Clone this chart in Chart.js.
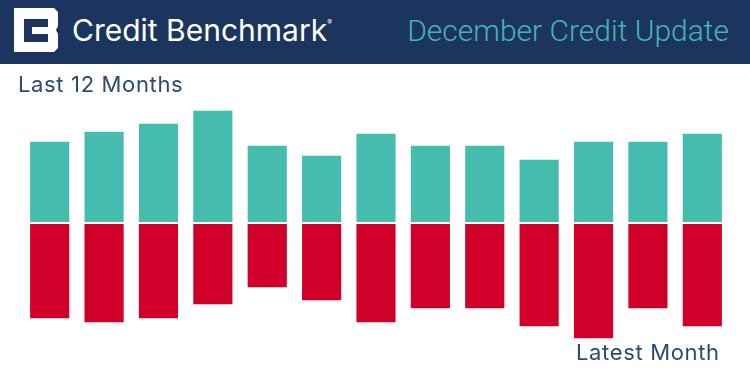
<!DOCTYPE html>
<html lang="en">
<head>
    <meta charset="UTF-8">
    <title>December Credit Update</title>
    <script src="https://cdn.jsdelivr.net/npm/chart.js"></script>
    <style>
        html, body { margin: 0; padding: 0; background: #fff; }
        #page { position: relative; width: 750px; height: 375px; overflow: hidden; }
        #chart { position: absolute; left: 0; top: 0; }
        .header { position: absolute; left: 0; top: 0; width: 750px; height: 64px; background: #1c355e; }
        .logo { position: absolute; left: 14px; top: 8px; }
        .brand { position: absolute; left: 72px; top: 10px; color: #fff; font: 400 30px/40px Inter, sans-serif; white-space: nowrap; }
        .brand sup { font-size: 7px; position: relative; top: -5px; vertical-align: super; line-height: 0; }
        .update { position: absolute; right: 21px; top: 11px; color: #45b5b0; font: 300 30px/40px Roboto, sans-serif; white-space: nowrap; }
        .note { position: absolute; color: #2e4a72; font: 400 22px/26px Inter, sans-serif; letter-spacing: 0.65px; white-space: nowrap; }
    </style>
</head>
<body>
    <div id="page">
        <canvas id="chart" width="750" height="375"></canvas>
        <div class="header">
            <svg class="logo" width="44" height="44" viewBox="0 0 44 44">
                <path d="M0 0H40L44 4V18L42 22L44 26V40L40 44H0Z" fill="#fff"/>
                <path d="M10 11H34V19H18V26H34V34H10Z" fill="#1c355e"/>
            </svg>
            <div class="brand">Credit Benchmark<sup>®</sup></div>
            <div class="update">December Credit Update</div>
        </div>
        <div class="note" style="left:18px;top:71px">Last 12 Months</div>
        <div class="note" style="left:576px;top:339px">Latest Month</div>
    </div>

    <script>
        const months = ['Dec', 'Jan', 'Feb', 'Mar', 'Apr', 'May', 'Jun', 'Jul', 'Aug', 'Sep', 'Oct', 'Nov', 'Dec '];
        const upgrades = [81, 91, 99, 112, 77, 67, 89, 77, 77, 63, 81, 81, 89];
        const downgrades = [-95, -99, -95, -81, -64, -77, -99, -85, -85, -103, -115, -85, -103];

        new Chart(document.getElementById('chart').getContext('2d'), {
            type: 'bar',
            data: {
                labels: months,
                datasets: [
                    { label: 'Upgrades', data: upgrades, backgroundColor: '#45bdae', barThickness: 38.5 },
                    { label: 'Downgrades', data: downgrades, backgroundColor: '#d0002a', barThickness: 38.5 }
                ]
            },
            options: {
                responsive: false,
                animation: false,
                layout: { padding: { left: 22.5, right: 20.5, top: 0, bottom: 0 } },
                plugins: { legend: { display: false }, title: { display: false }, tooltip: { enabled: false } },
                scales: {
                    x: { stacked: true, display: false },
                    y: {
                        stacked: true,
                        min: -152,
                        max: 223,
                        border: { display: false },
                        ticks: { display: false },
                        afterBuildTicks: function(axis) { axis.ticks = [{ value: 0 }]; },
                        // white line between the two halves
                        grid: { color: '#fff', lineWidth: 2, z: 1, drawTicks: false }
                    }
                }
            }
        });
    </script>
</body>
</html>
